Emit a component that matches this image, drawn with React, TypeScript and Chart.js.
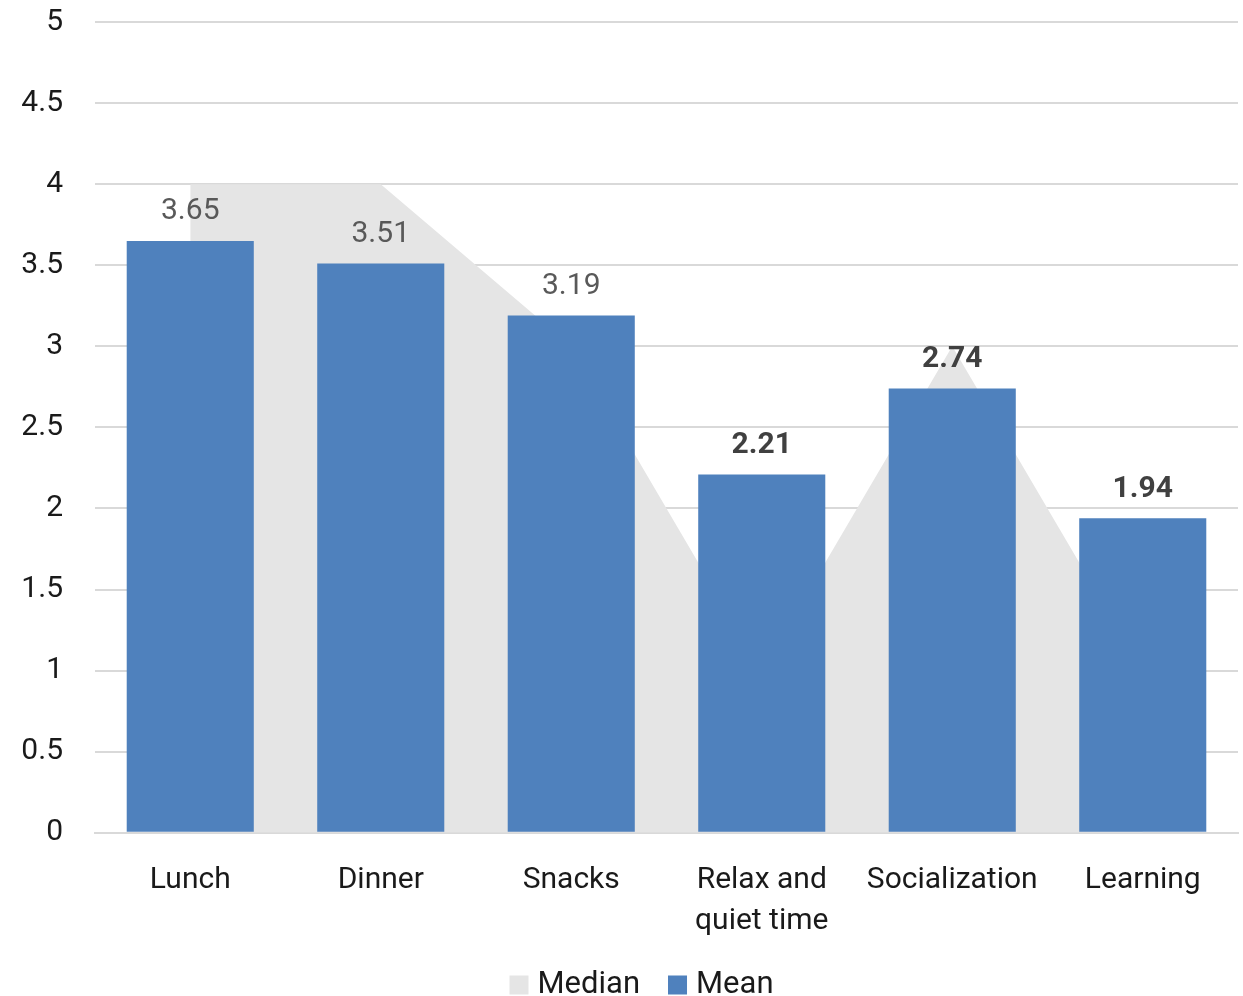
import React, { useEffect, useRef } from "react";
import { Chart, registerables } from "chart.js";

Chart.register(...registerables);

const categories: (string | string[])[] = [
  "Lunch",
  "Dinner",
  "Snacks",
  ["Relax and", "quiet time"],
  "Socialization",
  "Learning",
];
const meanValues = [3.65, 3.51, 3.19, 2.21, 2.74, 1.94];
const medianValues = [4, 4, 3, 1, 3, 1];
// labels for these categories are drawn in bold
const boldLabels = [false, false, false, true, true, true];
const yTicks = [0, 0.5, 1, 1.5, 2, 2.5, 3, 3.5, 4, 4.5, 5];

const FONT = "Roboto, 'Noto Sans', sans-serif";

const valueLabels = {
  id: "valueLabels",
  afterDatasetsDraw(chart: any) {
    const meta = chart.getDatasetMeta(1);
    const ctx = chart.ctx;
    ctx.save();
    ctx.textAlign = "center";
    ctx.textBaseline = "bottom";
    meta.data.forEach((bar: any, i: number) => {
      const bold = boldLabels[i];
      ctx.font = `${bold ? "bold " : ""}30px ${FONT}`;
      ctx.fillStyle = bold ? "#404040" : "#595959";
      ctx.fillText(meanValues[i].toFixed(2), bar.x, bar.y - 14);
    });
    ctx.restore();
  },
};

// Bottom legend: square swatch + dataset label, centred under the plot area
const bottomLegend = {
  id: "bottomLegend",
  afterDraw(chart: any) {
    const ctx = chart.ctx;
    const box = 19;
    const gap = 9;
    const spacing = 28;
    ctx.save();
    ctx.font = `31px ${FONT}`;
    ctx.textBaseline = "middle";
    ctx.textAlign = "left";
    const items = chart.data.datasets.map((ds: any) => ({
      text: ds.label,
      color: ds.backgroundColor,
      w: ctx.measureText(ds.label).width,
    }));
    const total =
      items.reduce((s: number, it: any) => s + box + gap + it.w, 0) +
      spacing * (items.length - 1);
    let x = (chart.width - total) / 2 + 20;
    const cy = chart.height - 11;
    items.forEach((it: any) => {
      ctx.fillStyle = it.color;
      ctx.fillRect(x, cy - box / 2, box, box);
      x += box + gap;
      ctx.fillStyle = "#1a1a1a";
      ctx.fillText(it.text, x, cy);
      x += it.w + spacing;
    });
    ctx.restore();
  },
};

export default function App() {
  const canvasRef = useRef<HTMLCanvasElement>(null);

  useEffect(() => {
    if (!canvasRef.current) return;
    const chart = new Chart(canvasRef.current, {
      type: "bar",
      data: {
        labels: categories,
        datasets: [
          {
            type: "line",
            label: "Median",
            data: medianValues,
            fill: "origin",
            backgroundColor: "#e5e5e5",
            borderColor: "#e5e5e5",
            borderWidth: 0,
            pointRadius: 0,
            tension: 0,
            order: 2,
          } as any,
          {
            type: "bar",
            label: "Mean",
            data: meanValues,
            backgroundColor: "#4f81bd",
            borderWidth: 0,
            barPercentage: 0.667,
            categoryPercentage: 1,
            order: 1,
          },
        ],
      },
      options: {
        animation: false,
        responsive: true,
        maintainAspectRatio: false,
        layout: { padding: { top: 0, right: 5, left: 0, bottom: 35 } },
        plugins: {
          tooltip: { enabled: false },
          legend: { display: false },
        },
        scales: {
          x: {
            grid: { display: false },
            border: { display: true, color: "#d9d9d9", width: 2 },
            ticks: {
              color: "#1a1a1a",
              font: { family: FONT, size: 30, lineHeight: 1.37 },
              padding: 19,
              maxRotation: 0,
              autoSkip: false,
            },
          },
          y: {
            min: 0,
            max: 5,
            afterBuildTicks: (scale: any) => {
              scale.ticks = yTicks.map((v) => ({ value: v }));
            },
            afterFit: (scale: any) => {
              scale.width = 95;
            },
            grid: { color: "#d9d9d9", lineWidth: 2, drawTicks: false },
            border: { display: false },
            ticks: {
              color: "#1a1a1a",
              font: { family: FONT, size: 30 },
              padding: 32,
              callback: (v: any) => String(v),
            },
          },
        },
      },
      plugins: [valueLabels, bottomLegend],
    });
    return () => chart.destroy();
  }, []);

  return (
    <div style={{ position: "absolute", left: 0, top: -28, width: 1243, height: 1024 }}>
      <canvas ref={canvasRef} />
    </div>
  );
}
